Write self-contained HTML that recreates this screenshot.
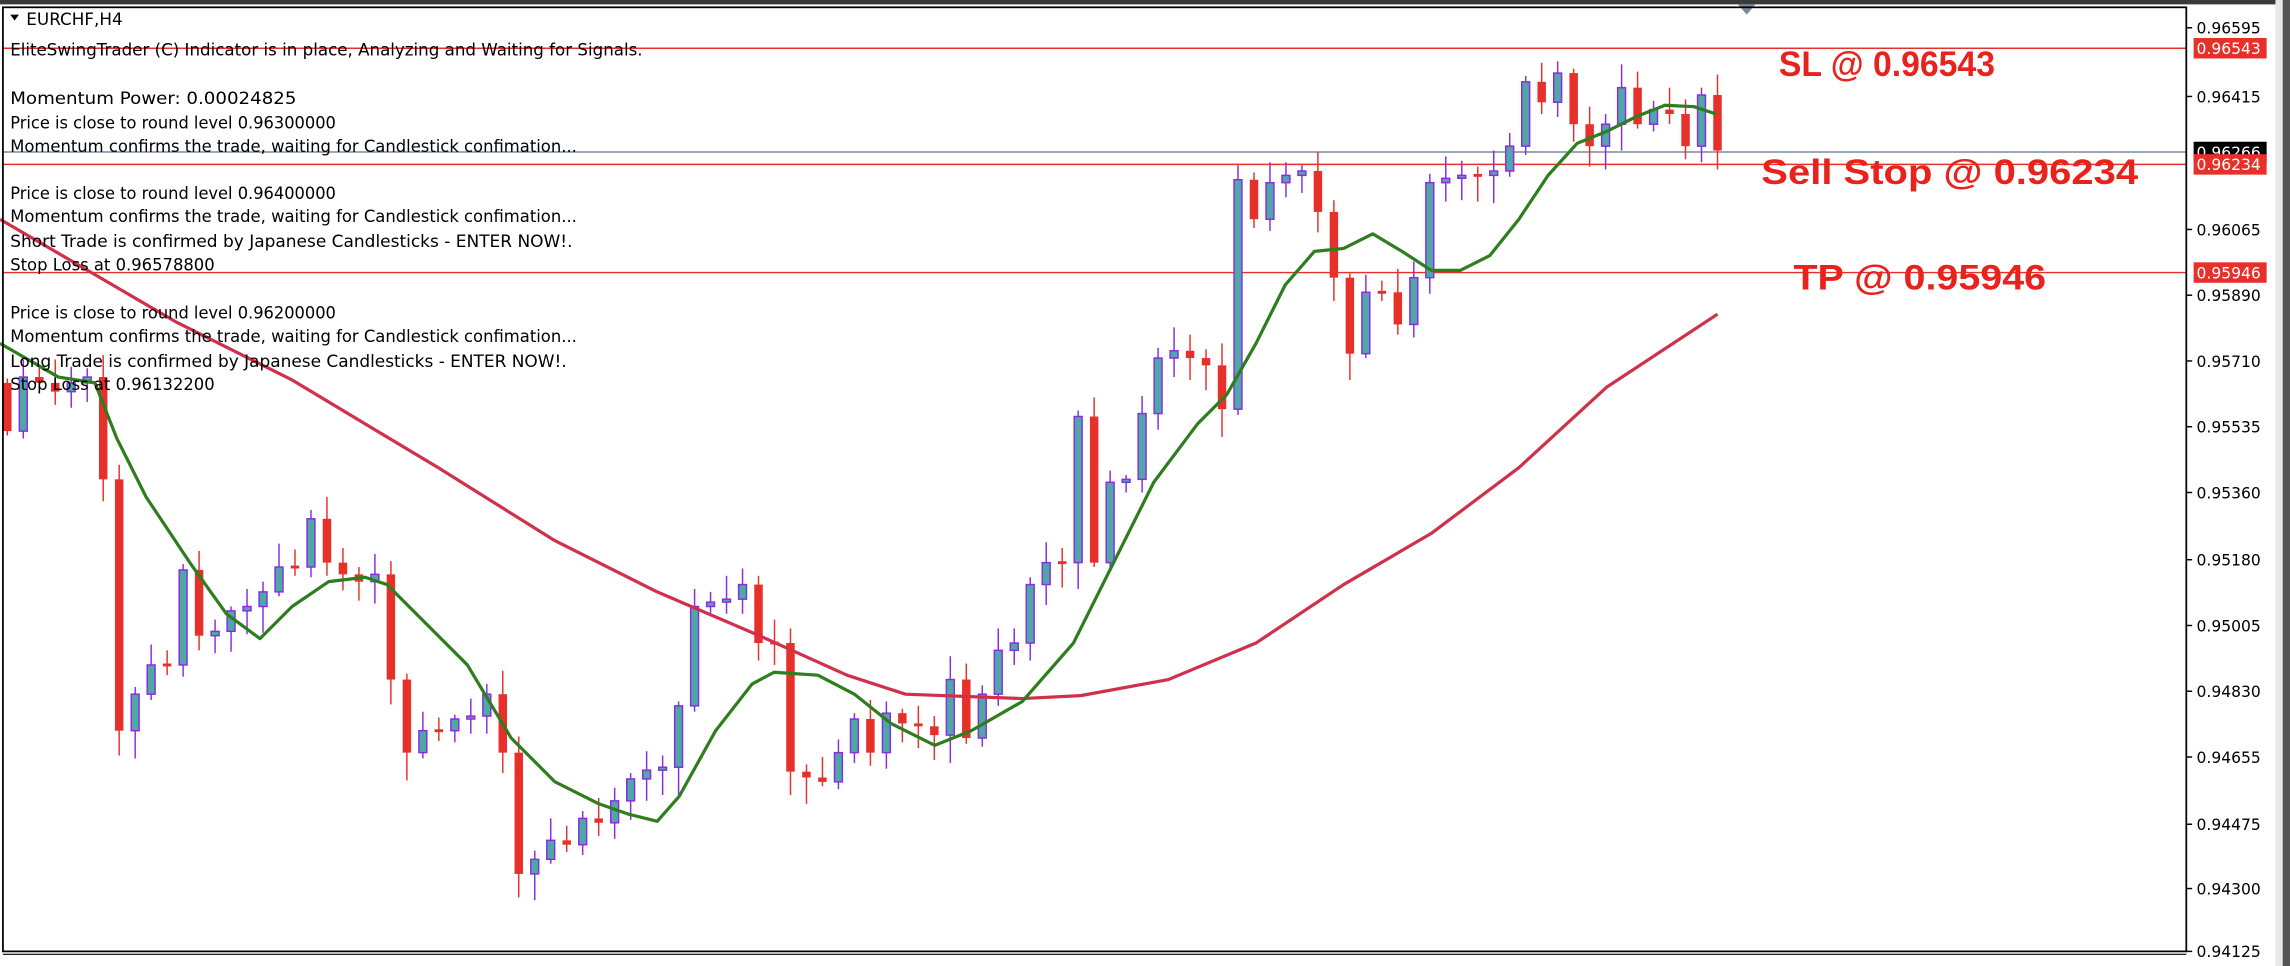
<!DOCTYPE html>
<html><head><meta charset="utf-8">
<style>
html,body{margin:0;padding:0;background:#fff;overflow:hidden}
svg{display:block}
text{font-family:"DejaVu Sans","Liberation Sans",sans-serif}
</style></head>
<body>
<svg id="s" width="2290" height="966" viewBox="0 0 1568 661" preserveAspectRatio="none" xmlns="http://www.w3.org/2000/svg">
<rect x="0" y="0" width="1568" height="661" fill="#fff"/>
<rect x="0" y="0" width="1568" height="3" fill="#3a3a3a"/>
<rect x="1558" y="0" width="10" height="661" fill="#e8e8e8"/>
<rect x="1563" y="0" width="5" height="661" fill="#555"/>
<g id="lines">
<line x1="2" y1="33" x2="1497" y2="33" stroke="#e8302a" stroke-width="1"/>
<line x1="2" y1="104" x2="1497" y2="104" stroke="#7a8a99" stroke-width="1"/>
<line x1="2" y1="112.5" x2="1497" y2="112.5" stroke="#e8302a" stroke-width="1"/>
<line x1="2" y1="186.5" x2="1497" y2="186.5" stroke="#e8302a" stroke-width="1"/>
</g>
<g id="candles"></g>
<polyline id="redma" fill="none" stroke="#d0304a" stroke-width="2.2" stroke-linejoin="round"/>
<polyline id="greenma" fill="none" stroke="#2e7d1e" stroke-width="2.2" stroke-linejoin="round"/>
<g font-size="11.5" fill="#000">
<text x="18" y="17">EURCHF,H4</text>
<path d="M7 10 L13 10 L10 14 Z" fill="#000"/>
<text x="7" y="38" textLength="433" lengthAdjust="spacingAndGlyphs">EliteSwingTrader (C) Indicator is in place, Analyzing and Waiting for Signals.</text>
<text x="7" y="71" textLength="196" lengthAdjust="spacingAndGlyphs">Momentum Power: 0.00024825</text>
<text x="7" y="88" textLength="223" lengthAdjust="spacingAndGlyphs">Price is close to round level 0.96300000</text>
<text x="7" y="104" textLength="388" lengthAdjust="spacingAndGlyphs">Momentum confirms the trade, waiting for Candlestick confimation...</text>
<text x="7" y="136" textLength="223" lengthAdjust="spacingAndGlyphs">Price is close to round level 0.96400000</text>
<text x="7" y="152" textLength="388" lengthAdjust="spacingAndGlyphs">Momentum confirms the trade, waiting for Candlestick confimation...</text>
<text x="7" y="169" textLength="385" lengthAdjust="spacingAndGlyphs">Short Trade is confirmed by Japanese Candlesticks - ENTER NOW!.</text>
<text x="7" y="185" textLength="140" lengthAdjust="spacingAndGlyphs">Stop Loss at 0.96578800</text>
<text x="7" y="218" textLength="223" lengthAdjust="spacingAndGlyphs">Price is close to round level 0.96200000</text>
<text x="7" y="234" textLength="388" lengthAdjust="spacingAndGlyphs">Momentum confirms the trade, waiting for Candlestick confimation...</text>
<text x="7" y="251" textLength="381" lengthAdjust="spacingAndGlyphs">Long Trade is confirmed by Japanese Candlesticks - ENTER NOW!.</text>
<text x="7" y="267" textLength="140" lengthAdjust="spacingAndGlyphs">Stop Loss at 0.96132200</text>
</g>
<g font-weight="bold" font-size="24" fill="#e8231e">
<text x="1218" y="52" textLength="148" lengthAdjust="spacingAndGlyphs" style="font-family:'Liberation Sans',sans-serif">SL @ 0.96543</text>
<text x="1206" y="126" textLength="258" lengthAdjust="spacingAndGlyphs" style="font-family:'Liberation Sans',sans-serif">Sell Stop @ 0.96234</text>
<text x="1228" y="198" textLength="173" lengthAdjust="spacingAndGlyphs" style="font-family:'Liberation Sans',sans-serif">TP @ 0.95946</text>
</g>
<path d="M1190 3 L1202 3 L1196 10 Z" fill="#7a8a99"/>
<rect x="2" y="5" width="1495" height="646" fill="none" stroke="#000" stroke-width="1.2"/>
<line x1="2" y1="653" x2="1497" y2="653" stroke="#000" stroke-width="0.8"/>
<g id="axis" font-size="11" fill="#000"></g>
</svg>
<script>
(function(){
var NS="http://www.w3.org/2000/svg";
function el(p,t,a,txt){var e=document.createElementNS(NS,t);for(var k in a)e.setAttribute(k,a[k]);if(txt)e.textContent=txt;p.appendChild(e);return e;}
var closes=[295,258,262,268,262,258,328,500,475,455,455,390,435,432,418,415,405,388,388,355,385,393,398,393,465,515,500,500,492,490,475,515,598,588,575,578,560,563,548,533,527,525,483,415,412,410,400,440,440,528,532,535,515,492,515,488,495,497,503,465,505,475,445,440,400,385,385,285,385,330,328,283,245,240,245,250,280,123,150,125,120,117,145,190,242,200,200,222,190,125,122,120,120,117,100,56,70,50,85,100,85,60,85,75,78,100,65,103];
var g=document.getElementById('candles');
var step=(1176-5)/107, prev=262;
for(var i=0;i<closes.length;i++){
 var x=5+i*step,o=prev,c=closes[i];prev=c;
 var bt=Math.min(o,c),bb=Math.max(o,c);
 if(bb-bt<2){bt-=1;bb+=1;}
 var hi=bt-(3+(i*37)%14), lo=bb+(3+(i*53)%17);
 var bull=c<o;
 var col=bull?'#8a2be2':'#e8302a';
 el(g,'line',{x1:x,y1:hi,x2:x,y2:lo,stroke:col,'stroke-width':1});
 if(bull) el(g,'rect',{x:x-2.7,y:bt,width:5.4,height:bb-bt,fill:'#4fa8a8',stroke:col,'stroke-width':1});
 else el(g,'rect',{x:x-2.9,y:bt,width:5.8,height:bb-bt,fill:col});
}
document.getElementById('greenma').setAttribute('points',"0,235 40,258 65,262 80,300 100,340 130,385 155,420 178,437 200,415 225,398 250,395 265,400 290,425 320,455 350,505 380,535 410,550 430,557 450,562 465,545 490,500 515,468 530,460 560,462 585,475 610,495 640,510 665,500 700,480 735,440 760,390 790,330 820,290 840,270 860,235 880,195 900,172 920,170 940,160 960,172 980,185 1000,185 1020,175 1040,150 1060,120 1080,98 1100,90 1120,80 1140,72 1160,73 1175,78");
document.getElementById('redma').setAttribute('points',"0,150 60,185 120,220 200,260 300,320 380,370 450,405 520,435 580,462 620,475 700,478 740,476 800,465 860,440 920,400 980,365 1040,320 1100,265 1176,215");
var ax=document.getElementById('axis');
var ticks=[["0.96595",19],["0.96415",66],["0.96065",157],["0.95890",202],["0.95710",247],["0.95535",292],["0.95360",337],["0.95180",383],["0.95005",428],["0.94830",473],["0.94655",518],["0.94475",564],["0.94300",608],["0.94125",651]];
ticks.forEach(function(t){el(ax,'line',{x1:1497,y1:t[1],x2:1501,y2:t[1],stroke:'#000','stroke-width':1});el(ax,'text',{x:1504,y:t[1]+4,textLength:44,lengthAdjust:'spacingAndGlyphs'},t[0]);});
function box(y,val,bg){el(ax,'rect',{x:1502,y:y-7,width:50,height:14,fill:bg});el(ax,'text',{x:1504,y:y+4,fill:'#fff',textLength:44,lengthAdjust:'spacingAndGlyphs'},val);}
box(104,"0.96266","#000");
box(33,"0.96543","#e8302a");
box(112.5,"0.96234","#e8302a");
box(186.5,"0.95946","#e8302a");
})();
</script>
</body></html>
